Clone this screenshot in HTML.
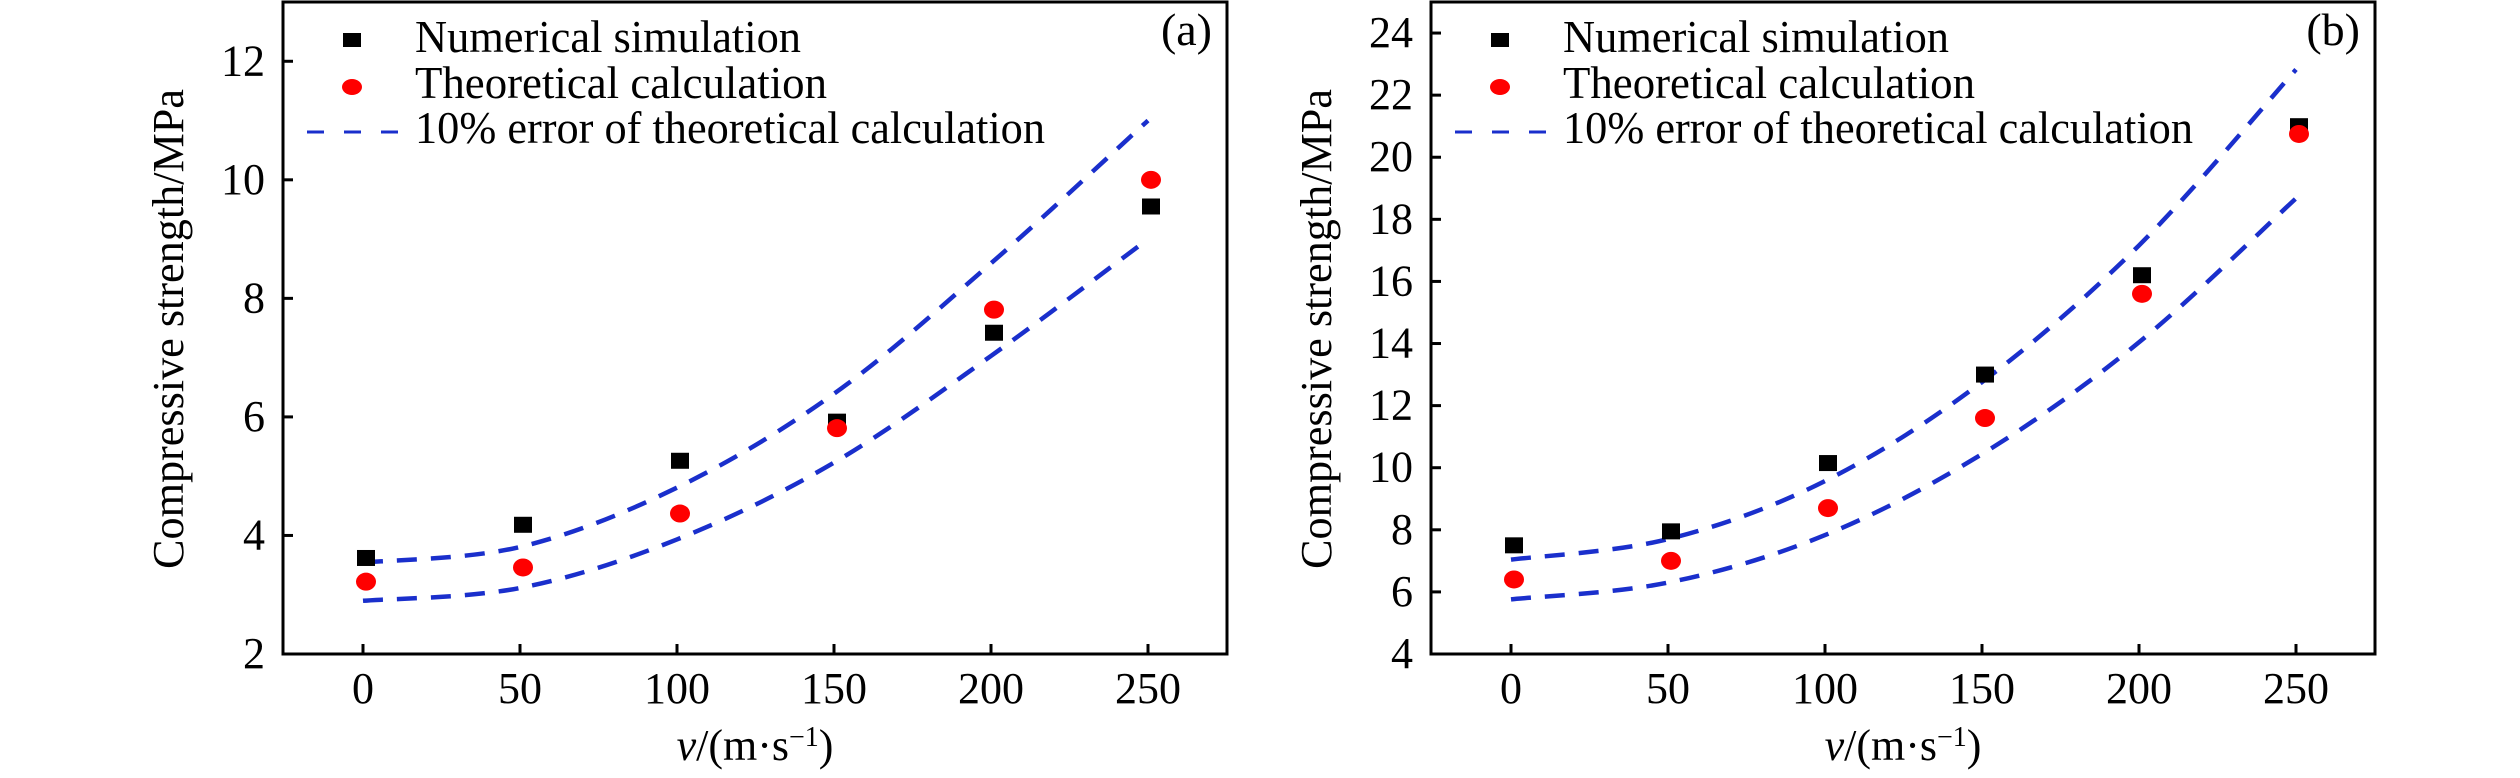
<!DOCTYPE html>
<html><head><meta charset="utf-8">
<style>
html,body{margin:0;padding:0;background:#fff;}
svg, svg text{font-family:"Liberation Serif","DejaVu Serif","Times New Roman",Times,serif;}
</style></head>
<body>
<svg id="chart" width="2520" height="773" viewBox="0 0 2520 773" xmlns="http://www.w3.org/2000/svg" font-family="Liberation Serif, DejaVu Serif, serif"></svg>
<script>
const categories = [0, 50, 100, 150, 200, 250];
const xTicks = [0, 50, 100, 150, 200, 250];
const simA = [3.62, 4.18, 5.26, 5.92, 7.42, 9.55];
const theoA = [3.22, 3.46, 4.37, 5.81, 7.81, 10.0];
const yTicksA = [2, 4, 6, 8, 10, 12];
const simB = [7.5, 7.95, 10.15, 13.0, 16.2, 21.0];
const theoB = [6.4, 7.0, 8.7, 11.6, 15.6, 20.75];
const yTicksB = [4, 6, 8, 10, 12, 14, 16, 18, 20, 22, 24];
const errorFactor = 0.1;

const NS = "http://www.w3.org/2000/svg";
const FONT = "Liberation Serif, DejaVu Serif, serif";
const svg = document.getElementById('chart');
function mk(tag, attrs, parent){const e=document.createElementNS(NS,tag);for(const k in attrs)e.setAttribute(k,attrs[k]);if(tag==='text')e.setAttribute('font-family',FONT);(parent||svg).appendChild(e);return e;}

function smoothPath(pts){
  let d = `M${pts[0][0]},${pts[0][1]}`;
  for(let i=0;i<pts.length-1;i++){
    const p0=pts[i-1]||pts[i], p1=pts[i], p2=pts[i+1], p3=pts[i+2]||p2;
    const c1=[p1[0]+(p2[0]-p0[0])/6, p1[1]+(p2[1]-p0[1])/6];
    const c2=[p2[0]-(p3[0]-p1[0])/6, p2[1]-(p3[1]-p1[1])/6];
    d+=` C${c1[0]},${c1[1]} ${c2[0]},${c2[1]} ${p2[0]},${p2[1]}`;
  }
  return d;
}

function panel(off, sim, theo, yTicks, yMin, yMax, label, id){
  const L=283+off, R=1227+off, T=2, B=654;
  const x = v => 363+off + (v-0)*(785/250);
  const y = v => B - (v-yMin)/(yMax-yMin)*(B-T);
  const g = mk('g',{});
  
  
  const frame = mk('rect',{x:L,y:T,width:R-L,height:B-T,fill:'none',stroke:'#000','stroke-width':3},g);
  
  
  yTicks.forEach(t=>{
    const tk=mk('line',{x1:L,x2:L+10,y1:y(t),y2:y(t),stroke:'#000','stroke-width':3},g);
    
    
    const tx=mk('text',{x:L-18,y:y(t)+14,'text-anchor':'end','font-size':44},g);
    tx.textContent=t;
    
    
  });
  xTicks.forEach(t=>{
    const tk=mk('line',{x1:x(t),x2:x(t),y1:B,y2:B-10,stroke:'#000','stroke-width':3},g);
    
    
    const tx=mk('text',{x:x(t),y:703,'text-anchor':'middle','font-size':44},g);
    tx.textContent=t;
    
    
  });
  const xt=mk('text',{x:(L+R)/2,y:760,'text-anchor':'middle','font-size':44},g);
  xt.innerHTML='<tspan font-style="italic">v</tspan>/(m·s<tspan dy="-14" font-size="28">−1</tspan><tspan dy="14">)</tspan>';
  
  
  const cx=169+off, cy=329;
  const yt=mk('text',{x:cx,y:cy,'text-anchor':'middle','font-size':44,transform:`rotate(-90 ${cx} ${cy}) translate(0 14)`,textLength:480,lengthAdjust:'spacingAndGlyphs'},g);
  yt.textContent='Compressive strength/MPa';
  
  
  const pl=mk('text',{x:R-15,y:45,'text-anchor':'end','font-size':46},g);
  pl.textContent=label;
  
  
  [1+errorFactor, 1-errorFactor].forEach((f,i)=>{
    const pts=categories.map((c,j)=>[x(c), y(theo[j]*f)]);
    const p=mk('path',{d:smoothPath(pts),fill:'none',stroke:'#1a2fcc','stroke-width':4.5,'stroke-dasharray':'20 14'},g);
    
    
  });
  categories.forEach((c,j)=>{
    const s=mk('rect',{x:x(c)-9+3,y:y(sim[j])-8,width:18,height:16,fill:'#000'},g);
    
    
  });
  categories.forEach((c,j)=>{
    const e=mk('ellipse',{cx:x(c)+3,cy:y(theo[j]),rx:10,ry:9,fill:'#f00'},g);
    
    
  });
  const lg=mk('g',{},g);
  
  
  const ls=mk('rect',{x:343+off,y:33,width:18,height:14,fill:'#000'},lg);
  
  
  const lc=mk('ellipse',{cx:352+off,cy:87,rx:10,ry:8,fill:'#f00'},lg);
  
  
  const ld=mk('line',{x1:307+off,x2:398+off,y1:132,y2:132,stroke:'#1a2fcc','stroke-width':3,'stroke-dasharray':'17 20'},lg);
  
  
  [['Numerical simulation',52,386],['Theoretical calculation',98,412],['10% error of theoretical calculation',143,630]].forEach(([t,yy,w])=>{
    const tx=mk('text',{x:415+off,y:yy,'font-size':46,textLength:w,lengthAdjust:'spacingAndGlyphs'},lg);
    tx.textContent=t;
    
    
  });
}
panel(0, simA, theoA, yTicksA, 2, 13.0, '(a)', 'a');
panel(1148, simB, theoB, yTicksB, 4, 25.0, '(b)', 'b');
</script>
</body></html>
